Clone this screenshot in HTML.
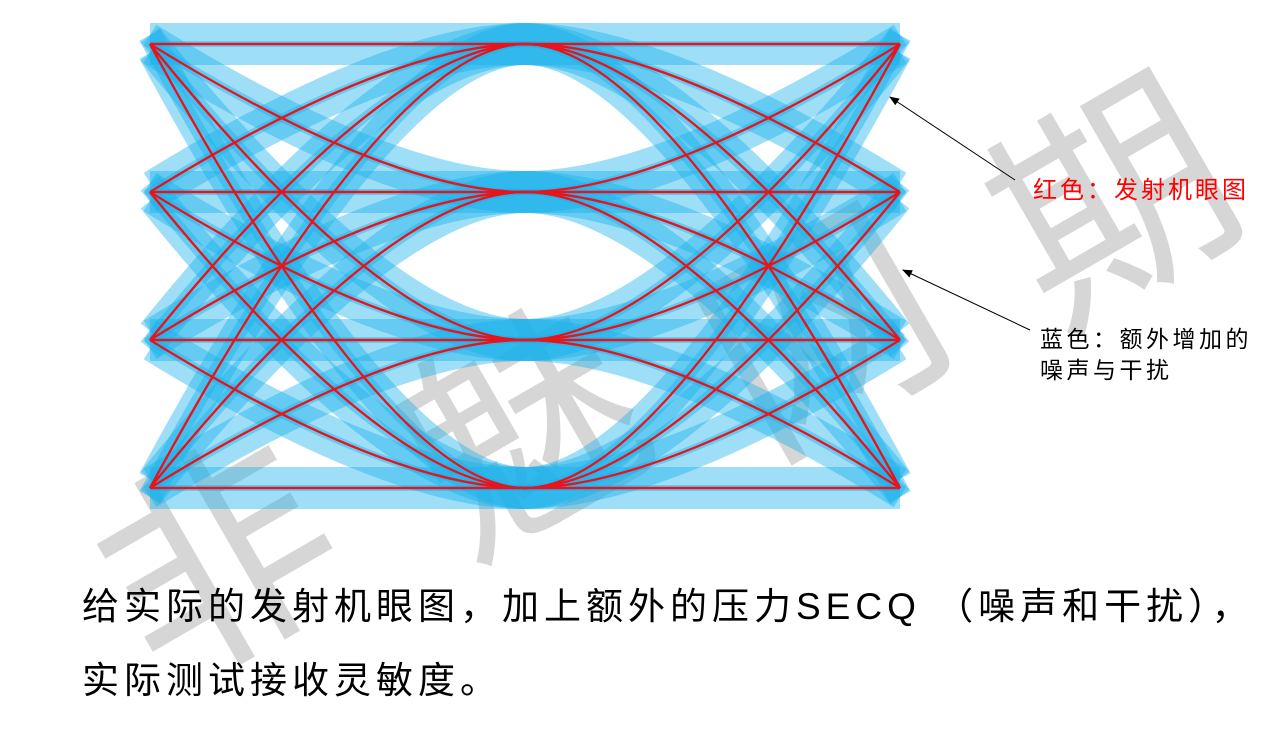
<!DOCTYPE html>
<html><head><meta charset="utf-8"><style>
html,body{margin:0;padding:0;background:#fff;}
body{width:1280px;height:720px;overflow:hidden;position:relative;font-family:"Liberation Sans","Noto Sans CJK SC",sans-serif;}
.t{position:absolute;white-space:nowrap;}
.wm{position:absolute;font-size:230px;color:#d0d0d0;opacity:.85;font-family:"Noto Sans CJK SC",sans-serif;}
</style></head><body>
<div class="wm" style="left:95px;top:380px;transform:rotate(-30deg)">非</div>
<div class="wm" style="left:400px;top:250px;transform:rotate(-30deg)">魅</div>
<div class="wm" style="left:700px;top:150px;transform:rotate(-30deg)">网</div>
<div class="wm" style="left:990px;top:20px;transform:rotate(-30deg)">期</div>
<svg id="s" width="1280" height="720" style="position:absolute;left:0;top:0">
<defs><marker id="a" markerWidth="10" markerHeight="8" refX="9" refY="4" orient="auto"><path d="M0,0L10,4L0,8z" fill="#000"/></marker></defs>
<g id="blue" fill="none" stroke="#19b0ec" stroke-width="24" stroke-opacity="0.42"></g>
<g id="red" fill="none" stroke="#e8141c" stroke-width="2.2"></g>
<line x1="1015" y1="180" x2="890" y2="97" stroke="#000" stroke-width="1" marker-end="url(#a)"/>
<line x1="1030" y1="330" x2="903" y2="270" stroke="#000" stroke-width="1" marker-end="url(#a)"/>
</svg>
<div class="t" style="left:1033px;top:170px;font-size:24px;letter-spacing:3px;color:#ff0000">红色：发射机眼图</div>
<div class="t" style="left:1040px;top:324px;font-size:23px;letter-spacing:3.5px;color:#000;line-height:31px">蓝色：额外增加的<br>噪声与干扰</div>
<div class="t" style="left:82px;top:576px;font-size:37px;letter-spacing:5px;color:#000">给实际的发射机眼图，加上额外的压力SECQ （噪声和干扰），</div>
<div class="t" style="left:82px;top:650px;font-size:37px;letter-spacing:5px;color:#000">实际测试接收灵敏度。</div>
<script>
var L=[44,192,340,488],xl=150,xc=525,xr=900,k=0.64,b='',r='';
function segs(ya,yb,yc,dy){
  var c1=xl+(xc-xl)*k, c2=xr-(xr-xc)*k;
  return 'M'+xl+','+(ya+dy)+' Q'+c1+','+(yb+dy)+' '+xc+','+(yb+dy)+' Q'+c2+','+(yb+dy)+' '+xr+','+(yc+dy);
}
for(var i=0;i<4;i++)for(var j=0;j<4;j++){
  var c=(i+j)%4;
  r+='<path d="'+segs(L[i],L[j],L[3-i],0)+'"/>';
  r+='<path d="'+segs(L[c],L[j],L[i],0)+'"/>';
  [-9,9].forEach(function(d){b+='<path d="'+segs(L[i],L[j],L[3-i],d)+'"/>';});
}
document.getElementById('red').innerHTML=r;
document.getElementById('blue').innerHTML=b;
</script>
</body></html>
